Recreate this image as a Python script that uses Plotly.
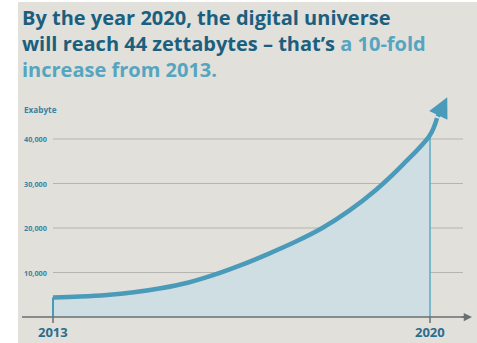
import plotly.graph_objects as go

# Digital universe size, exabytes (half-year steps)
years = [2013, 2013.5, 2014, 2014.5, 2015, 2015.5, 2016, 2016.5,
         2017, 2017.5, 2018, 2018.5, 2019, 2019.5, 2020]
exabytes = [4400, 4600, 4950, 5550, 6450, 7700, 9500, 11700,
            14200, 16900, 20000, 23900, 28600, 34300, 40900]
# curve keeps rising past 2020 into the arrowhead
arrow_tail = (2020.13, 44700)
arrow_tip = (2020.32, 49400)

grid_values = [10000, 20000, 30000, 40000]
grid_labels = ["10,000", "20,000", "30,000", "40,000"]
year_marks = [2013, 2020]
year_labels = ["2013", "2020"]
y_title = "Exabyte"

W, H = 477, 343
PX_PER_YEAR = 53.86
PX_PER_UNIT = 4.45 / 1000
X0_PX, Y0_PX = 53, 317


def xpx(px):
    return years[0] + (px - X0_PX) / PX_PER_YEAR


def ypx(py):
    return (Y0_PX - py) / PX_PER_UNIT


BG = "#e1e0db"
LINE = "#4a9ab9"
FILL = "#cfdee3"
GRID = "#b5b4b0"
AXIS = "#6b6f71"
DARK = "#1b5f7f"
LIGHT = "#56a5c0"
TICK = "#3b82a0"

fig = go.Figure()

# shaded area 2013-2020
fig.add_trace(go.Scatter(
    x=years, y=exabytes, mode="lines", line=dict(width=0, shape="spline"),
    fill="tozeroy", fillcolor=FILL, hoverinfo="skip", showlegend=False))

# vertical edges at 2013 and 2020
fig.add_trace(go.Scatter(
    x=[years[0], years[0]], y=[0, exabytes[0]], mode="lines",
    line=dict(color=LINE, width=2), showlegend=False))
fig.add_trace(go.Scatter(
    x=[years[-1], years[-1]], y=[0, exabytes[-1]], mode="lines",
    line=dict(color="#5eaac3", width=1.5), showlegend=False))

# growth curve
fig.add_trace(go.Scatter(
    x=years + [arrow_tail[0]], y=exabytes + [arrow_tail[1]], mode="lines",
    line=dict(color=LINE, width=4.5, shape="spline"), showlegend=False))

shapes = [
    dict(type="rect", xref="paper", yref="paper", x0=18 / W, x1=1,
         y0=0, y1=1 - 2 / H, fillcolor=BG, line=dict(width=0), layer="below"),
]
for v in grid_values:
    shapes.append(dict(type="line", xref="x", yref="y", x0=years[0], x1=xpx(463),
                       y0=v, y1=v, line=dict(color=GRID, width=1.2), layer="below"))
# baseline
shapes.append(dict(type="line", xref="x", yref="y", x0=xpx(22), x1=xpx(464),
                   y0=0, y1=0, line=dict(color=AXIS, width=1.5)))
for yr in year_marks:
    shapes.append(dict(type="line", xref="x", yref="y", x0=yr, x1=yr,
                       y0=0, y1=ypx(323), line=dict(color=AXIS, width=1.5)))

annotations = []
# arrowhead on the curve
annotations.append(dict(x=arrow_tip[0], y=arrow_tip[1], ax=arrow_tail[0], ay=arrow_tail[1],
                        xref="x", yref="y", axref="x", ayref="y", text="",
                        showarrow=True, arrowhead=2, arrowsize=0.9, arrowwidth=4.5,
                        arrowcolor=LINE, standoff=0))
# baseline arrow
annotations.append(dict(x=xpx(472), y=0, ax=xpx(460), ay=0,
                        xref="x", yref="y", axref="x", ayref="y", text="",
                        showarrow=True, arrowhead=2, arrowsize=1.1, arrowwidth=1.5,
                        arrowcolor=AXIS, standoff=0))

small = dict(family="Open Sans", size=7.3, color=TICK, weight="bold")
for v, lab in zip(grid_values, grid_labels):
    annotations.append(dict(x=xpx(22), y=v, text=lab, xref="x", yref="y",
                            xanchor="left", yanchor="middle", showarrow=False, font=small))
annotations.append(dict(x=xpx(22), y=ypx(109), text=y_title, xref="x", yref="y",
                        xanchor="left", yanchor="middle", showarrow=False,
                        font=dict(small, size=8.2)))
for yr, lab in zip(year_marks, year_labels):
    annotations.append(dict(x=yr, y=ypx(332), text=lab, xref="x", yref="y",
                            xanchor="center", yanchor="middle", showarrow=False,
                            font=dict(family="Open Sans", size=13, color="#2a6d8c", weight="bold")))

title = (
    f"<span style='color:{DARK}'>By the year 2020, the digital universe</span><br>"
    f"<span style='color:{DARK}'>will reach 44 zettabytes – that’s </span>"
    f"<span style='color:{LIGHT}'>a 10-fold</span><br>"
    f"<span style='color:{LIGHT}'>increase from 2013.</span>"
)
annotations.append(dict(x=20 / W, y=1 - 2 / H, text=title,
                        xref="paper", yref="paper", xanchor="left", yanchor="top",
                        align="left", showarrow=False,
                        font=dict(family="Open Sans", size=20, color=DARK, weight="bold")))

fig.update_layout(
    width=W, height=H,
    margin=dict(l=0, r=0, t=0, b=0),
    paper_bgcolor="white", plot_bgcolor="rgba(0,0,0,0)",
    xaxis=dict(range=[xpx(0), xpx(W)], visible=False, fixedrange=True),
    yaxis=dict(range=[ypx(H), ypx(0)], visible=False, fixedrange=True),
    shapes=shapes, annotations=annotations,
    showlegend=False,
)

fig.write_html("out.html", config={"displayModeBar": False})
